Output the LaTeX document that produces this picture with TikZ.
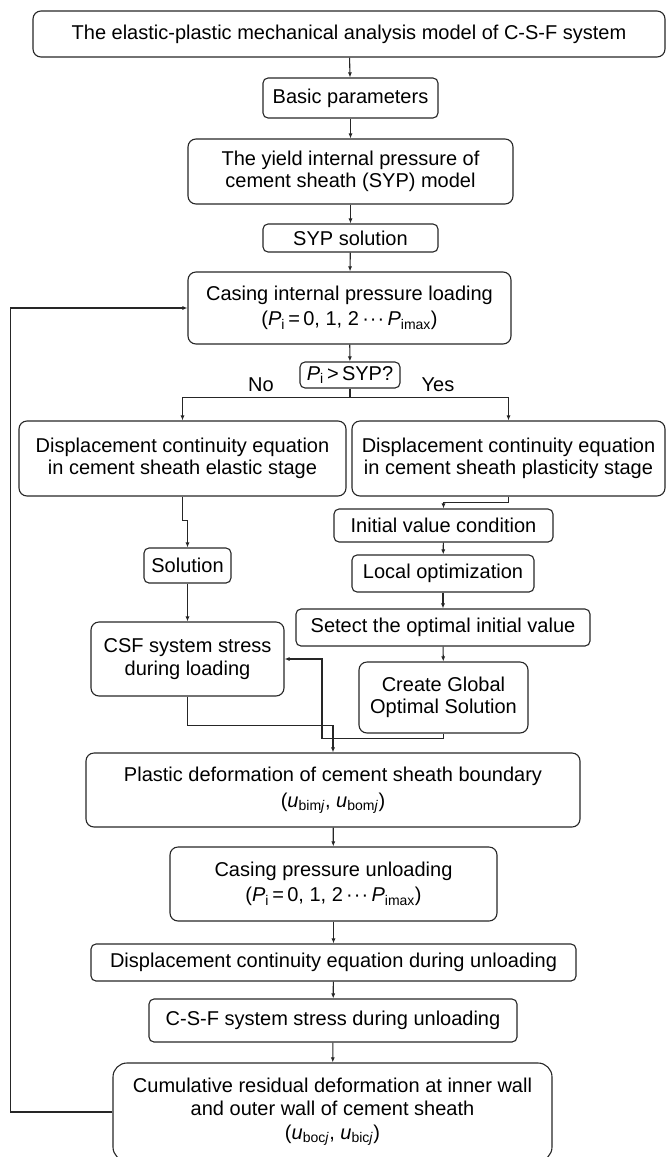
\documentclass[tikz,border=0pt]{standalone}
\usepackage{fontspec}
\setmainfont{Liberation Sans}
\usetikzlibrary{arrows.meta, calc}

\tikzset{
    box/.style={draw=black!85, line width=1.1pt, rounded corners=8pt, align=center, inner sep=2pt, font=\fontsize{20}{22.5}\selectfont},
    smallbox/.style={box, rounded corners=5pt},
    lbl/.style={font=\fontsize{20}{22.5}\selectfont, inner sep=0pt},
    flow/.style={draw=black!85, line width=1.1pt, -{Latex[length=5pt,width=4pt]}},
}
\newcommand{\Pvar}[1]{\textit{P}\textsubscript{#1}}
\newcommand{\uvar}[1]{\textit{u}\textsubscript{#1}}
\newcommand{\cdotsrow}{\,\textperiodcentered\kern1pt\textperiodcentered\kern1pt\textperiodcentered\,}

\begin{document}
\begin{tikzpicture}[x=1pt, y=-1pt]
        \useasboundingbox (0,0) rectangle (666,1157);
        % main column, top part
        \node[box, minimum width=632, minimum height=46] (model) at (349,34) {The elastic-plastic mechanical analysis model of C-S-F system};
        \node[smallbox, minimum width=175, minimum height=40] (basic) at (350.5,98) {Basic parameters};
        \node[box, minimum width=325, minimum height=65] (yield) at (350.5,171.5) {The yield internal pressure of\\cement sheath (SYP) model};
        \node[smallbox, minimum width=175, minimum height=28] (sypsol) at (350.5,238) {SYP solution};
        \node[box, minimum width=323, minimum height=72] (casing) at (349.5,308) {Casing internal pressure loading\\[3pt](\Pvar{i}\,=\,0, 1, 2\cdotsrow\Pvar{imax})};
        \node[smallbox, minimum width=100, minimum height=26] (check) at (350,375) {\Pvar{i}\,>\,SYP?};
        \node[lbl] (no) at (261,385) {No};
        \node[lbl] (yes) at (438,385) {Yes};

        % two branches
        \node[box, minimum width=327, minimum height=75] (elastic) at (182.5,458.5) {Displacement continuity equation\\in cement sheath elastic stage};
        \node[box, minimum width=313, minimum height=75] (plastic) at (508.5,458.5) {Displacement continuity equation\\in cement sheath plasticity stage};
        \node[smallbox, minimum width=219, minimum height=33] (initial) at (443.5,525.5) {Initial value condition};
        \node[smallbox, minimum width=87, minimum height=35] (solution) at (187.5,565.5) {Solution};
        \node[smallbox, minimum width=182, minimum height=37] (local) at (443,573.5) {Local optimization};
        \node[smallbox, minimum width=294, minimum height=37] (select) at (443,627.5) {Setect the optimal initial value};
        \node[box, minimum width=193, minimum height=74] (csf) at (187.5,659) {CSF system stress\\during loading};
        \node[box, minimum width=169, minimum height=71] (global) at (443.5,697.5) {Create Global\\Optimal Solution};
        \coordinate (bend) at (322,659);

        % main column, bottom part
        \node[box, minimum width=494, minimum height=74] (deform) at (333,790) {Plastic deformation of cement sheath boundary\\[4pt](\uvar{bim\textit{j}}, \uvar{bom\textit{j}})};
        \node[box, minimum width=327, minimum height=74] (unload) at (333.5,884) {Casing pressure unloading\\[3pt](\Pvar{i}\,=\,0, 1, 2\cdotsrow\Pvar{imax})};
        \node[smallbox, minimum width=485, minimum height=37] (dunload) at (333.5,962.5) {Displacement continuity equation during unloading};
        \node[smallbox, minimum width=368, minimum height=43] (sunload) at (333,1020.5) {C-S-F system stress during unloading};
        \node[box, minimum width=439, minimum height=98, rounded corners=14pt] (cumul) at (332.5,1112) {Cumulative residual deformation at inner wall\\and outer wall of cement sheath\\[2pt](\uvar{boc\textit{j}}, \uvar{bic\textit{j}})};

        % connectors
        \draw[flow] (model) -- (basic);
        \draw[flow] (basic) -- (yield);
        \draw[flow] (yield) -- (sypsol);
        \draw[flow] (sypsol) -- (casing);
        \draw[flow] (casing) -- (check);
        \draw[flow] (check.south) -- ++(0,9) -| (elastic.north);
        \draw[flow] (check.south) -- ++(0,9) -| (plastic.north);
        \draw[flow] (elastic.south) -- ++(0,24) -| (solution.north);
        \draw[flow] (plastic.south) -- ++(0,6) -| (initial.north);
        \draw[flow] (initial) -- (local);
        \draw[flow] (local) -- (select);
        \draw[flow] (select) -- (global);
        \draw[flow] (solution) -- (csf);
        \draw[flow] (csf.south) -- ++(0,29) -| (deform.north);
        \draw[flow] (global.south) -- ++(0,5) -| (bend) -- (csf.east);
        \draw[flow] (deform) -- (unload);
        \draw[flow] (unload) -- (dunload);
        \draw[flow] (dunload) -- (sunload);
        \draw[flow] (sunload) -- (cumul);
        \draw[flow] (cumul.west) -- ++(-102,0) |- (casing.west);
    \end{tikzpicture}
\end{document}
